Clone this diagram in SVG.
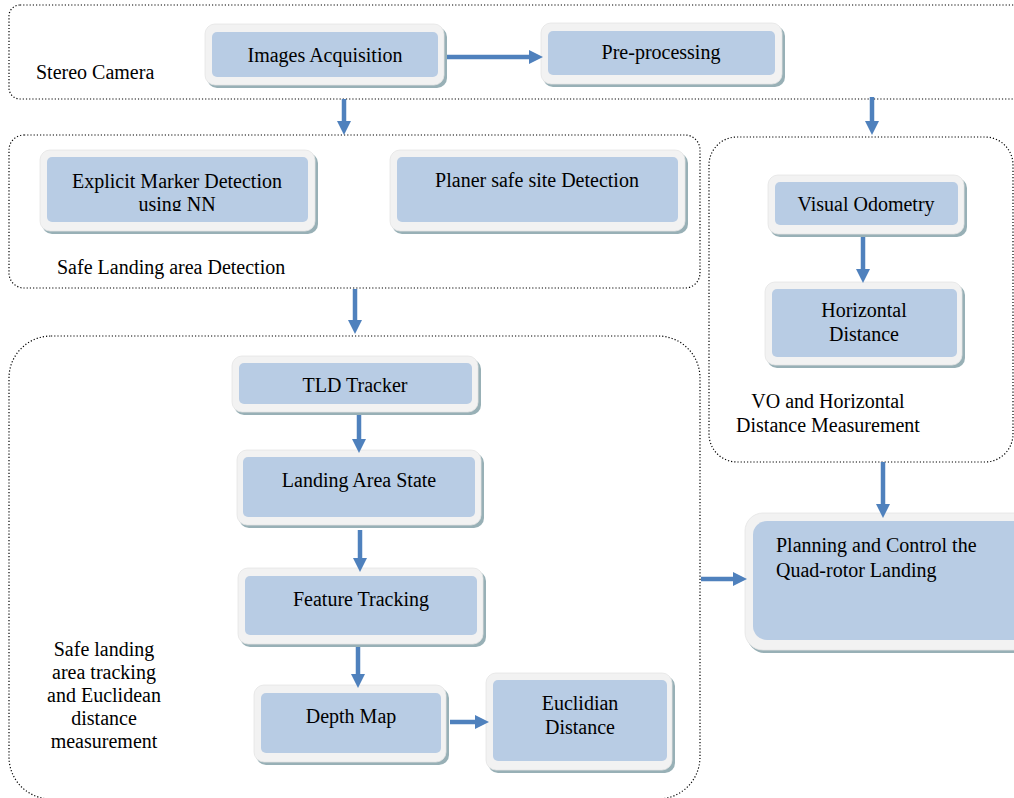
<svg xmlns="http://www.w3.org/2000/svg" width="1014" height="798" viewBox="0 0 1014 798">
<style>
.cont{fill:none;stroke:#000;stroke-width:1.2;stroke-dasharray:1.2 2}
.sh{fill:#98b0b6}
.out{fill:#f2f2f2;stroke:#e4e4e4;stroke-width:0.8}
.in{fill:#b8cce4}
.t{font-family:"Liberation Serif","Times New Roman",serif;font-size:20px;fill:#000}
.c{text-anchor:middle}
.arr{stroke:#4f81bd;stroke-width:4.5;fill:none;marker-end:url(#ah)}
</style>
<defs>
<marker id="ah" markerUnits="userSpaceOnUse" viewBox="0 0 14 14" markerWidth="14" markerHeight="14" refX="1" refY="7" orient="auto">
<path d="M0,0 L14,7 L0,14 z" fill="#4f81bd"/>
</marker>
<clipPath id="clipNN"><rect x="40" y="150" width="280" height="61"/></clipPath>
</defs>
<rect width="1014" height="798" fill="#fff"/>

<g id="containers">
<g id="stereo-camera">
<rect class="cont" x="9" y="5" width="1030" height="94" rx="11"/>
<text class="t" x="36" y="79">Stereo Camera</text>
</g>
<g id="safe-landing-detection">
<rect class="cont" x="9" y="135" width="691" height="153" rx="15"/>
<text class="t" x="57" y="274">Safe Landing area Detection</text>
</g>
<g id="vo-container">
<rect class="cont" x="709" y="137" width="304" height="325" rx="28"/>
<text class="t c" x="828" y="408">VO and Horizontal</text>
<text class="t c" x="828" y="432">Distance Measurement</text>
</g>
<g id="tracking-container">
<rect class="cont" x="9" y="336" width="691" height="463" rx="42"/>
<text class="t c" x="104" y="656">Safe landing</text>
<text class="t c" x="104" y="679">area tracking</text>
<text class="t c" x="104" y="702">and Euclidean</text>
<text class="t c" x="104" y="725">distance</text>
<text class="t c" x="104" y="748">measurement</text>
</g>
</g>

<g id="n-images">
<rect class="sh" x="207" y="27" width="240" height="61" rx="10"/>
<rect class="out" x="205" y="24" width="239" height="61" rx="10"/>
<rect class="in" x="212" y="32" width="226" height="45" rx="5"/>
<text class="t c" x="325" y="62">Images Acquisition</text>
</g>
<g id="n-pre">
<rect class="sh" x="543" y="26" width="242" height="61" rx="10"/>
<rect class="out" x="541" y="23" width="241" height="61" rx="10"/>
<rect class="in" x="548" y="31" width="227" height="44" rx="5"/>
<text class="t c" x="661" y="59">Pre-processing</text>
</g>
<g id="n-explicit">
<rect class="sh" x="42" y="153" width="276" height="81" rx="10"/>
<rect class="out" x="40" y="150" width="275" height="81" rx="10"/>
<rect class="in" x="47" y="157" width="261" height="65" rx="5"/>
<g clip-path="url(#clipNN)">
<text class="t c" x="177" y="188">Explicit Marker Detection</text>
<text class="t c" x="177" y="211">using NN</text>
</g>
</g>
<g id="n-planer">
<rect class="sh" x="392" y="153" width="296" height="81" rx="10"/>
<rect class="out" x="390" y="150" width="295" height="81" rx="10"/>
<rect class="in" x="397" y="157" width="281" height="65" rx="5"/>
<text class="t c" x="537" y="187">Planer safe site Detection</text>
</g>
<g id="n-vo">
<rect class="sh" x="770" y="178" width="197" height="59" rx="10"/>
<rect class="out" x="768" y="175" width="196" height="59" rx="10"/>
<rect class="in" x="775" y="182" width="183" height="43" rx="5"/>
<text class="t c" x="866" y="211">Visual Odometry</text>
</g>
<g id="n-horiz">
<rect class="sh" x="767" y="285" width="198" height="83" rx="10"/>
<rect class="out" x="765" y="282" width="197" height="83" rx="10"/>
<rect class="in" x="772" y="289" width="185" height="68" rx="5"/>
<text class="t c" x="864" y="317">Horizontal</text>
<text class="t c" x="864" y="341">Distance</text>
</g>
<g id="n-planning">
<rect class="sh" x="747" y="516" width="320" height="137" rx="18"/>
<rect class="out" x="745" y="513" width="320" height="137" rx="18"/>
<rect class="in" x="753" y="521" width="310" height="119" rx="14"/>
<text class="t" x="776" y="552">Planning and Control the</text>
<text class="t" x="776" y="577">Quad-rotor Landing</text>
</g>
<g id="n-tld">
<rect class="sh" x="234" y="359" width="247" height="56" rx="10"/>
<rect class="out" x="232" y="356" width="246" height="56" rx="10"/>
<rect class="in" x="239" y="363" width="233" height="41" rx="5"/>
<text class="t c" x="355" y="392">TLD Tracker</text>
</g>
<g id="n-landing">
<rect class="sh" x="239" y="453" width="245" height="75" rx="10"/>
<rect class="out" x="237" y="450" width="244" height="75" rx="10"/>
<rect class="in" x="243" y="457" width="232" height="60" rx="5"/>
<text class="t c" x="359" y="487">Landing Area State</text>
</g>
<g id="n-feature">
<rect class="sh" x="240" y="571" width="246" height="76" rx="10"/>
<rect class="out" x="238" y="568" width="245" height="76" rx="10"/>
<rect class="in" x="245" y="576" width="232" height="59" rx="5"/>
<text class="t c" x="361" y="606">Feature Tracking</text>
</g>
<g id="n-depth">
<rect class="sh" x="256" y="688" width="193" height="77" rx="10"/>
<rect class="out" x="254" y="685" width="192" height="77" rx="10"/>
<rect class="in" x="261" y="693" width="180" height="60" rx="5"/>
<text class="t c" x="351" y="723">Depth Map</text>
</g>
<g id="n-euclid">
<rect class="sh" x="488" y="676" width="187" height="97" rx="10"/>
<rect class="out" x="486" y="673" width="186" height="97" rx="10"/>
<rect class="in" x="493" y="680" width="174" height="81" rx="5"/>
<text class="t c" x="580" y="710">Euclidian</text>
<text class="t c" x="580" y="734">Distance</text>
</g>

<g id="connectors">
<line class="arr" x1="447" y1="57" x2="530" y2="57"/>
<line class="arr" x1="344" y1="99" x2="344" y2="122"/>
<line class="arr" x1="872" y1="97" x2="872" y2="122"/>
<line class="arr" x1="355" y1="289" x2="355" y2="321"/>
<line class="arr" x1="863" y1="237" x2="863" y2="270"/>
<line class="arr" x1="883" y1="462" x2="883" y2="505"/>
<line class="arr" x1="701" y1="579" x2="734" y2="579"/>
<line class="arr" x1="359" y1="415" x2="359" y2="440"/>
<line class="arr" x1="360" y1="530" x2="360" y2="559"/>
<line class="arr" x1="358" y1="647" x2="358" y2="675"/>
<line class="arr" x1="450" y1="722" x2="476" y2="722"/>
</g>
</svg>
